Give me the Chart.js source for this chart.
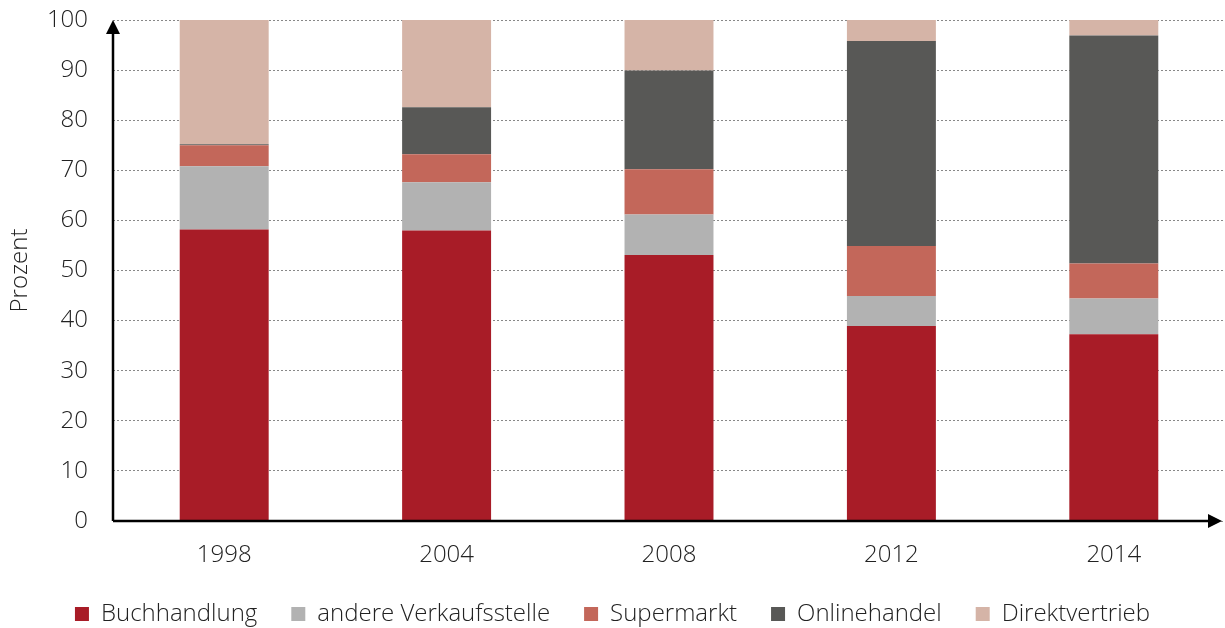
<!DOCTYPE html>
<html>
<head>
<meta charset="utf-8">
<script src="https://cdn.jsdelivr.net/npm/chart.js@4"></script>
<style>
  html, body { margin: 0; padding: 0; background: #fff; }
  #wrap { width: 1225px; height: 628px; }
</style>
</head>
<body>
<div id="wrap"><canvas id="c" width="1225" height="628"></canvas></div>
<script>
/* ── Data ─────────────────────────────────────── */
const years          = ['1998', '2004', '2008', '2012', '2014'];
const buchhandlung   = [58.2, 58.0, 53.1, 38.9, 37.3];
const andere         = [12.6,  9.6,  8.1,  6.0,  7.1];
const supermarkt     = [ 4.2,  5.6,  9.0, 10.0,  7.0];
const onlinehandel   = [ 0.2,  9.4, 19.7, 40.9, 45.5];
const direktvertrieb = [24.8, 17.4, 10.1,  4.2,  3.1];
const yTicks         = [0, 10, 20, 30, 40, 50, 60, 70, 80, 90, 100];

const FONT = '"Open Sans", sans-serif';

/* ── Axis lines with arrow heads ─────────────── */
const arrowAxes = {
  id: 'arrowAxes',
  afterDraw(chart) {
    const { ctx, chartArea: a } = chart;
    const y0 = chart.scales.y.getPixelForValue(0);
    ctx.save();
    ctx.strokeStyle = '#000';
    ctx.fillStyle = '#000';
    ctx.lineWidth = 2.5;
    ctx.beginPath();
    ctx.moveTo(a.left, y0);
    ctx.lineTo(a.left, a.top + 8);
    ctx.moveTo(a.left, y0);
    ctx.lineTo(a.right - 10, y0);
    ctx.stroke();
    // up arrow
    ctx.beginPath();
    ctx.moveTo(a.left, a.top);
    ctx.lineTo(a.left - 7, a.top + 14);
    ctx.lineTo(a.left + 7, a.top + 14);
    ctx.closePath();
    ctx.fill();
    // right arrow
    ctx.beginPath();
    ctx.moveTo(a.right - 3, y0);
    ctx.lineTo(a.right - 17, y0 - 7);
    ctx.lineTo(a.right - 17, y0 + 7);
    ctx.closePath();
    ctx.fill();
    ctx.restore();
  }
};

function ds(label, data, color) {
  return { label, data, backgroundColor: color, borderWidth: 0,
           categoryPercentage: 1.0, barPercentage: 0.4 };
}

new Chart(document.getElementById('c'), {
  type: 'bar',
  data: {
    labels: years,
    datasets: [
      ds('Buchhandlung', buchhandlung, '#A81C27'),
      ds('andere Verkaufsstelle', andere, '#B2B2B2'),
      ds('Supermarkt', supermarkt, '#C3675A'),
      ds('Onlinehandel', onlinehandel, '#585856'),
      ds('Direktvertrieb', direktvertrieb, '#D5B4A7'),
    ]
  },
  options: {
    responsive: false,
    animation: false,
    layout: { padding: { left: 0, right: 0, top: 20, bottom: -8 } },
    scales: {
      x: {
        stacked: true,
        grid: { display: false },
        border: { display: false },
        ticks: { color: '#222', font: { family: FONT, size: 24, weight: 300 }, padding: 12 },
        afterFit(s) { s.height = 47; }
      },
      y: {
        stacked: true,
        min: 0, max: 100,
        afterBuildTicks(s) { s.ticks = yTicks.map(v => ({ value: v })); },
        grid: { color: '#888', lineWidth: 1, drawTicks: false },
        border: { display: false, dash: [2, 2] },
        ticks: { color: '#222', font: { family: FONT, size: 24, weight: 300 }, padding: 25 },
        title: { display: true, text: 'Prozent', color: '#222',
                 font: { family: FONT, size: 24, weight: 300 }, padding: { top: 6, bottom: 0 } },
        afterFit(s) { s.width = 113; s.paddingTop = 0; s.paddingBottom = 0; }
      }
    },
    plugins: {
      legend: {
        position: 'bottom',
        labels: { color: '#222', font: { family: FONT, size: 24, weight: 300 },
                  boxWidth: 14, boxHeight: 14, padding: 34 }
      },
      tooltip: { enabled: false }
    }
  },
  plugins: [arrowAxes]
});
</script>
</body>
</html>
